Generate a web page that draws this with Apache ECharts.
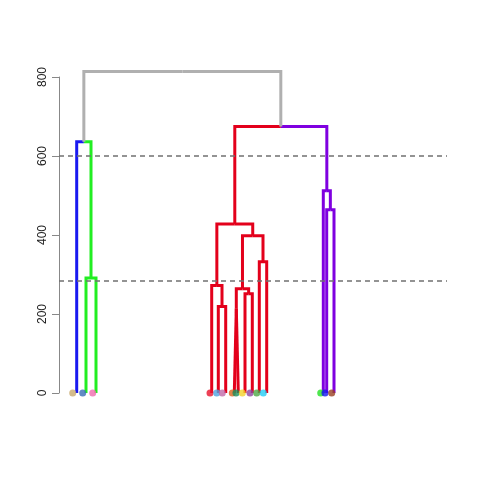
<!DOCTYPE html>
<html>
<head>
<meta charset="utf-8">
<script src="https://cdn.jsdelivr.net/npm/echarts@6/dist/echarts.min.js"></script>
<style>html,body{margin:0;padding:0;background:#fff}#c{width:480px;height:480px}</style>
</head>
<body>
<div id="c"></div>
<script>
// Leaf positions (plot units along x) for branches and for leaf dots
var leafX = [76.7, 86, 96, 211.7, 218.3, 225.7, 234.3, 238.3, 245, 252.3, 259.3, 266.7, 323.3, 326.7, 334];
var leafDotX = [72.7, 82.7, 92.7, 210, 216.7, 222.3, 232.3, 236, 242.3, 250, 256.7, 263.3, 320.7, 325, 331.7];
var leafDotColors = ['#C8AA6E', '#3A6DB5', '#F06AAE', '#E8102A', '#4FA3E0', '#C06AAA', '#D9651C', '#1A8F5C', '#F2D32A', '#8E44A0', '#4DA845', '#22CCF5', '#22E022', '#1414F0', '#9A4022'];
// Branch colour of each leaf
var leafBranchColors = ['#1A1AF0', '#22EE22', '#22EE22', '#E3001B', '#E3001B', '#E3001B', '#E3001B', '#E3001B', '#E3001B', '#E3001B', '#E3001B', '#E3001B', '#7F00E0', '#7F00E0', '#7F00E0'];
// hclust-style merge table: negative = leaf (1-based), positive = merge row (1-based)
var mergeA = [-2, -1, -5, -4, -7, -9, 5, -11, 7, 4, -14, -13, 10, 2];
var mergeB = [-3, 1, -6, 3, -8, -10, 6, -12, 8, 9, -15, 11, 12, 13];
var mergeHeight = [291, 636, 219, 272, 214, 251, 264, 332, 398, 428, 464, 512, 675, 814];
var mergeColors = ['#22EE22', '#B0B0B0', '#E3001B', '#E3001B', '#E3001B', '#E3001B', '#E3001B', '#E3001B', '#E3001B', '#E3001B', '#7F00E0', '#7F00E0', '#B0B0B0', null];
var cutHeights = [600, 285];
var yTicks = [0, 200, 400, 600, 800];

var nodeX = [], nodeH = [];
function getX(id) { return id < 0 ? leafX[-id - 1] : nodeX[id - 1]; }
function getH(id) { return id < 0 ? 0 : nodeH[id - 1]; }
function getC(id) { return id < 0 ? leafBranchColors[-id - 1] : mergeColors[id - 1]; }
for (var i = 0; i < mergeA.length; i++) {
  nodeX[i] = (getX(mergeA[i]) + getX(mergeB[i])) / 2;
  nodeH[i] = mergeHeight[i];
}
var series = [];
for (var i = 0; i < mergeA.length; i++) {
  [mergeA[i], mergeB[i]].forEach(function (ch) {
    series.push({
      type: 'line', symbol: 'none', silent: true, animation: false, clip: false,
      data: [[nodeX[i], nodeH[i]], [getX(ch), nodeH[i]], [getX(ch), getH(ch)]],
      lineStyle: { color: getC(ch), width: 3, join: 'miter', cap: 'butt' },
      z: 3
    });
  });
}
series.push({
  type: 'scatter', silent: true, animation: false, clip: false,
  data: leafDotX.map(function (x, k) { return { value: [x, 0], itemStyle: { color: leafDotColors[k] } }; }),
  symbolSize: 7, z: 5,
  markLine: {
    silent: true, symbol: 'none', label: { show: false }, animation: false,
    lineStyle: { color: '#707070', type: [5, 4], width: 1.5 },
    data: cutHeights.map(function (h) { return { yAxis: h }; })
  }
});

var chart = echarts.init(document.getElementById('c'), null, { renderer: 'canvas' });
chart.setOption({
  backgroundColor: '#fff',
  animation: false,
  grid: { left: 59, right: 33, top: 77, bottom: 87, containLabel: false },
  xAxis: { type: 'value', min: 59, max: 447, show: false },
  yAxis: {
    type: 'value', min: 0, max: 800, interval: 200,
    axisLine: { show: true, lineStyle: { color: '#888', width: 1 } },
    axisTick: { show: true, length: 7, lineStyle: { color: '#888' } },
    splitLine: { show: false },
    axisLabel: {
      rotate: 90, margin: 10, color: '#222', fontSize: 12,
      fontFamily: 'Liberation Sans, Arial, sans-serif',
      customValues: yTicks
    }
  },
  series: series
});
</script>
</body>
</html>
